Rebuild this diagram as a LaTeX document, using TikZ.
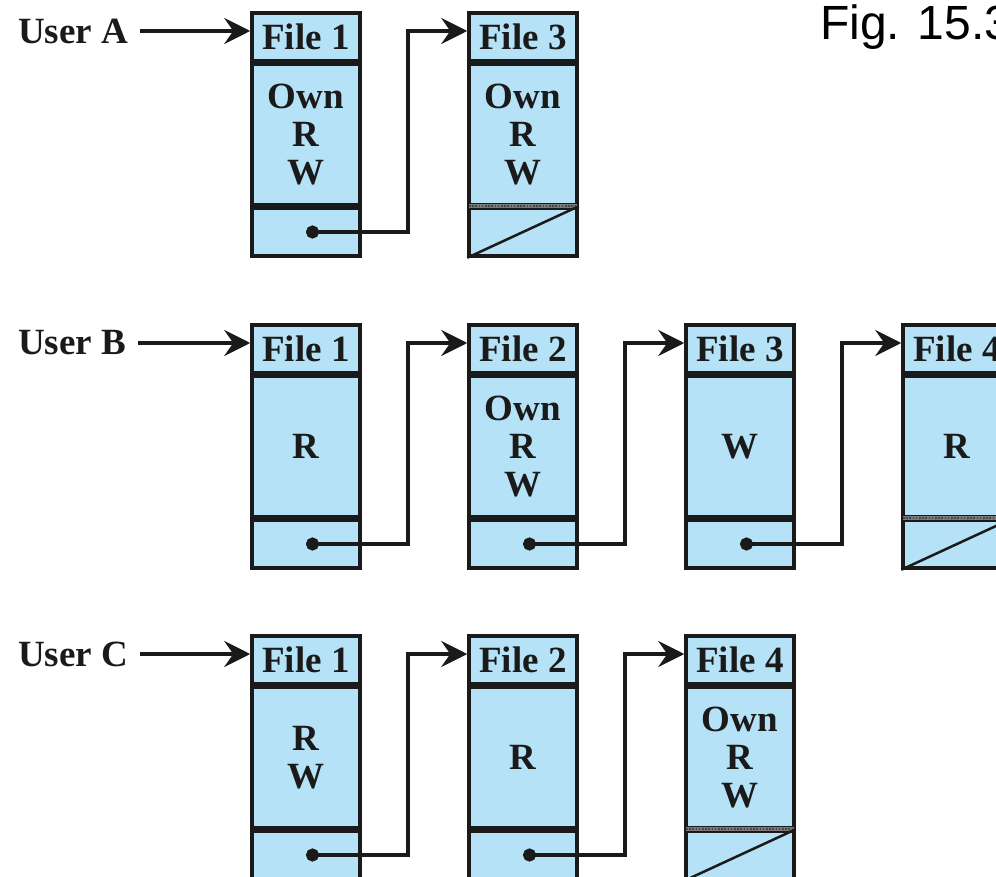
\documentclass[tikz,border=0pt]{standalone}
\usepackage{fontspec}
\setmainfont{Liberation Serif}
\newfontfamily\figfont{Liberation Sans}
\usetikzlibrary{arrows.meta,positioning,calc}
\definecolor{ink}{HTML}{1A1A1A}
\definecolor{cell}{HTML}{B5E2F6}
\definecolor{nullgray}{HTML}{7A7A7A}

\begin{document}
\begin{tikzpicture}[
  x=1pt, y=-1pt,
  font=\fontsize{37}{38}\selectfont\bfseries,
  >={Stealth[length=26pt,width=26pt,inset=9pt]},
  box/.style={
    draw=ink,
    fill=cell,
    line width=3.5pt,
    minimum width=108pt,
    inner sep=0pt,
    align=center,
    text=ink
  },
  head/.style={box, minimum height=48pt},
  perm/.style={box, minimum height=140pt},
  ptr/.style={box, minimum height=48pt},
  user/.style={anchor=west, inner sep=0pt, text=ink},
  entry/.style={->, line width=3.5pt, draw=ink, shorten <=12pt},
  link/.style={{Circle[length=13pt]}->, line width=3.5pt, draw=ink},
  nullbar/.style={
    draw=nullgray, line width=4pt,
    shorten <=1.75pt, shorten >=1.75pt,
    postaction={draw=ink!80, line width=1.6pt, dash pattern=on 1.6pt off 1.6pt}
  },
  nil/.style={draw=ink, line width=2.5pt}
]

\useasboundingbox (0,0) rectangle (996,877);
\clip (0,0) rectangle (996,877);

\node[anchor=base west, inner sep=0pt, font=\figfont\mdseries\fontsize{48}{50}\selectfont] (fig) at (820,40) {Fig. 15.3};

% user A
\node[user] (ua) at (18,31) {User A};
\node[head] (a1h) at (306,37) {File 1};
\node[perm, below=0pt of a1h] (a1b) {Own\\R\\W};
\node[ptr, below=0pt of a1b] (a1p) {};
\node[head] (a3h) at (523,37) {File 3};
\node[perm, below=0pt of a3h] (a3b) {Own\\R\\W};
\node[ptr, below=0pt of a3b] (a3p) {};

% user B
\node[user] (ub) at (18,343) {User B};
\node[head] (b1h) at (306,349) {File 1};
\node[perm, below=0pt of b1h] (b1b) {R};
\node[ptr, below=0pt of b1b] (b1p) {};
\node[head] (b2h) at (523,349) {File 2};
\node[perm, below=0pt of b2h] (b2b) {Own\\R\\W};
\node[ptr, below=0pt of b2b] (b2p) {};
\node[head] (b3h) at (740,349) {File 3};
\node[perm, below=0pt of b3h] (b3b) {W};
\node[ptr, below=0pt of b3b] (b3p) {};
\node[head] (b4h) at (957,349) {File 4};
\node[perm, below=0pt of b4h] (b4b) {R};
\node[ptr, below=0pt of b4b] (b4p) {};

% user C
\node[user] (uc) at (18,654) {User C};
\node[head] (c1h) at (306,660) {File 1};
\node[perm, below=0pt of c1h] (c1b) {R\\W};
\node[ptr, below=0pt of c1b] (c1p) {};
\node[head] (c2h) at (523,660) {File 2};
\node[perm, below=0pt of c2h] (c2b) {R};
\node[ptr, below=0pt of c2b] (c2p) {};
\node[head] (c4h) at (740,660) {File 4};
\node[perm, below=0pt of c4h] (c4b) {Own\\R\\W};
\node[ptr, below=0pt of c4b] (c4p) {};

% end of each list
\draw[nullbar] (a3p.north west) -- (a3p.north east);
\draw[nil] (a3p.south west) -- (a3p.north east);
\draw[nullbar] (b4p.north west) -- (b4p.north east);
\draw[nil] (b4p.south west) -- (b4p.north east);
\draw[nullbar] (c4p.north west) -- (c4p.north east);
\draw[nil] (c4p.south west) -- (c4p.north east);

% list heads
\draw[entry] (ua.east) -- (ua -| a1h.west);
\draw[entry] (ub.east) -- (ub -| b1h.west);
\draw[entry] (uc.east) -- (uc -| c1h.west);

% next pointers
\draw[link] (a1p.center) -- ([xshift=46pt]a1p.east) |- ([yshift=6pt]a3h.west);
\draw[link] (b1p.center) -- ([xshift=46pt]b1p.east) |- ([yshift=6pt]b2h.west);
\draw[link] (b2p.center) -- ([xshift=46pt]b2p.east) |- ([yshift=6pt]b3h.west);
\draw[link] (b3p.center) -- ([xshift=46pt]b3p.east) |- ([yshift=6pt]b4h.west);
\draw[link] (c1p.center) -- ([xshift=46pt]c1p.east) |- ([yshift=6pt]c2h.west);
\draw[link] (c2p.center) -- ([xshift=46pt]c2p.east) |- ([yshift=6pt]c4h.west);

\end{tikzpicture}
\end{document}
